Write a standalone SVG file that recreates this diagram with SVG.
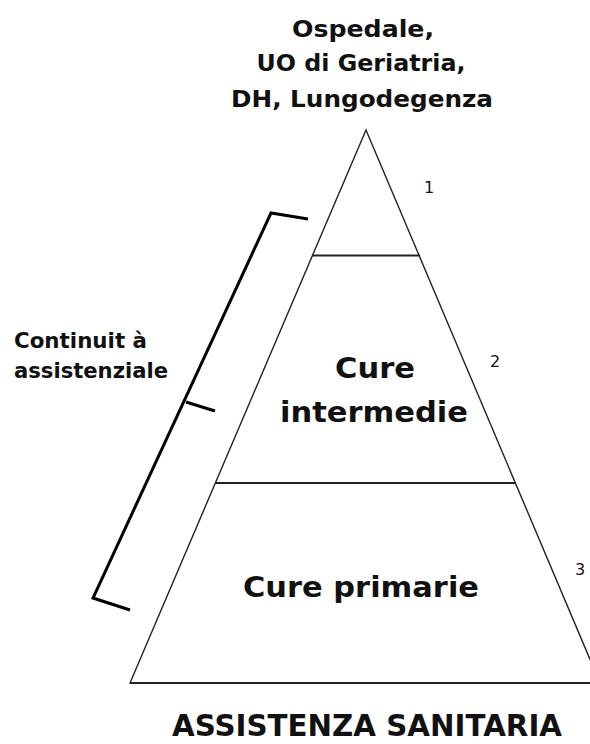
<svg xmlns="http://www.w3.org/2000/svg" width="590" height="744" viewBox="0 0 590 744">
<style>
.t{font-family:"DejaVu Sans","Liberation Sans",sans-serif;font-weight:bold;fill:#111}
.n{font-family:"DejaVu Sans","Liberation Sans",sans-serif;font-size:16px;fill:#111}
.edge{fill:none;stroke:#222;stroke-width:1.4}
.hl{stroke:#222;stroke-width:2}
.br{fill:none;stroke:#000;stroke-width:3;stroke-linejoin:miter}
</style>
<rect width="590" height="744" fill="#fff"/>
<g id="title-top">
<text class="t" x="363" y="37" text-anchor="middle" font-size="23" textLength="142" lengthAdjust="spacingAndGlyphs">Ospedale,</text>
<text class="t" x="361" y="71" text-anchor="middle" font-size="23" textLength="209" lengthAdjust="spacingAndGlyphs">UO di Geriatria,</text>
<text class="t" x="362" y="107" text-anchor="middle" font-size="23" textLength="262" lengthAdjust="spacingAndGlyphs">DH, Lungodegenza</text>
</g>
<g id="pyramid">
<polygon class="edge" points="366,130 130,683 600,683"/>
<line class="hl" x1="312" y1="255.5" x2="420" y2="255.5"/>
<line class="hl" x1="215" y1="483" x2="515" y2="483"/>
<line class="hl" x1="130" y1="683" x2="590" y2="683"/>
</g>
<g id="level1">
<text class="n" x="429" y="193" text-anchor="middle">1</text>
</g>
<g id="level2">
<text class="t" x="375" y="378" text-anchor="middle" font-size="29" textLength="80" lengthAdjust="spacingAndGlyphs">Cure</text>
<text class="t" x="374" y="422" text-anchor="middle" font-size="29" textLength="188" lengthAdjust="spacingAndGlyphs">intermedie</text>
<text class="n" x="495" y="367" text-anchor="middle">2</text>
</g>
<g id="level3">
<text class="t" x="361" y="597" text-anchor="middle" font-size="29" textLength="236" lengthAdjust="spacingAndGlyphs">Cure primarie</text>
<text class="n" x="580" y="575" text-anchor="middle">3</text>
</g>
<g id="bracket">
<polyline class="br" points="308,219 271,213 93,598 130,610"/>
<line class="br" x1="186" y1="402" x2="215" y2="411"/>
<text class="t" x="14" y="348" font-size="21" textLength="133" lengthAdjust="spacingAndGlyphs">Continuit à</text>
<text class="t" x="14" y="378" font-size="21" textLength="154" lengthAdjust="spacingAndGlyphs">assistenziale</text>
</g>
<g id="title-bottom">
<text class="t" x="367" y="736" text-anchor="middle" font-size="30" textLength="390" lengthAdjust="spacingAndGlyphs">ASSISTENZA SANITARIA</text>
</g>
</svg>
